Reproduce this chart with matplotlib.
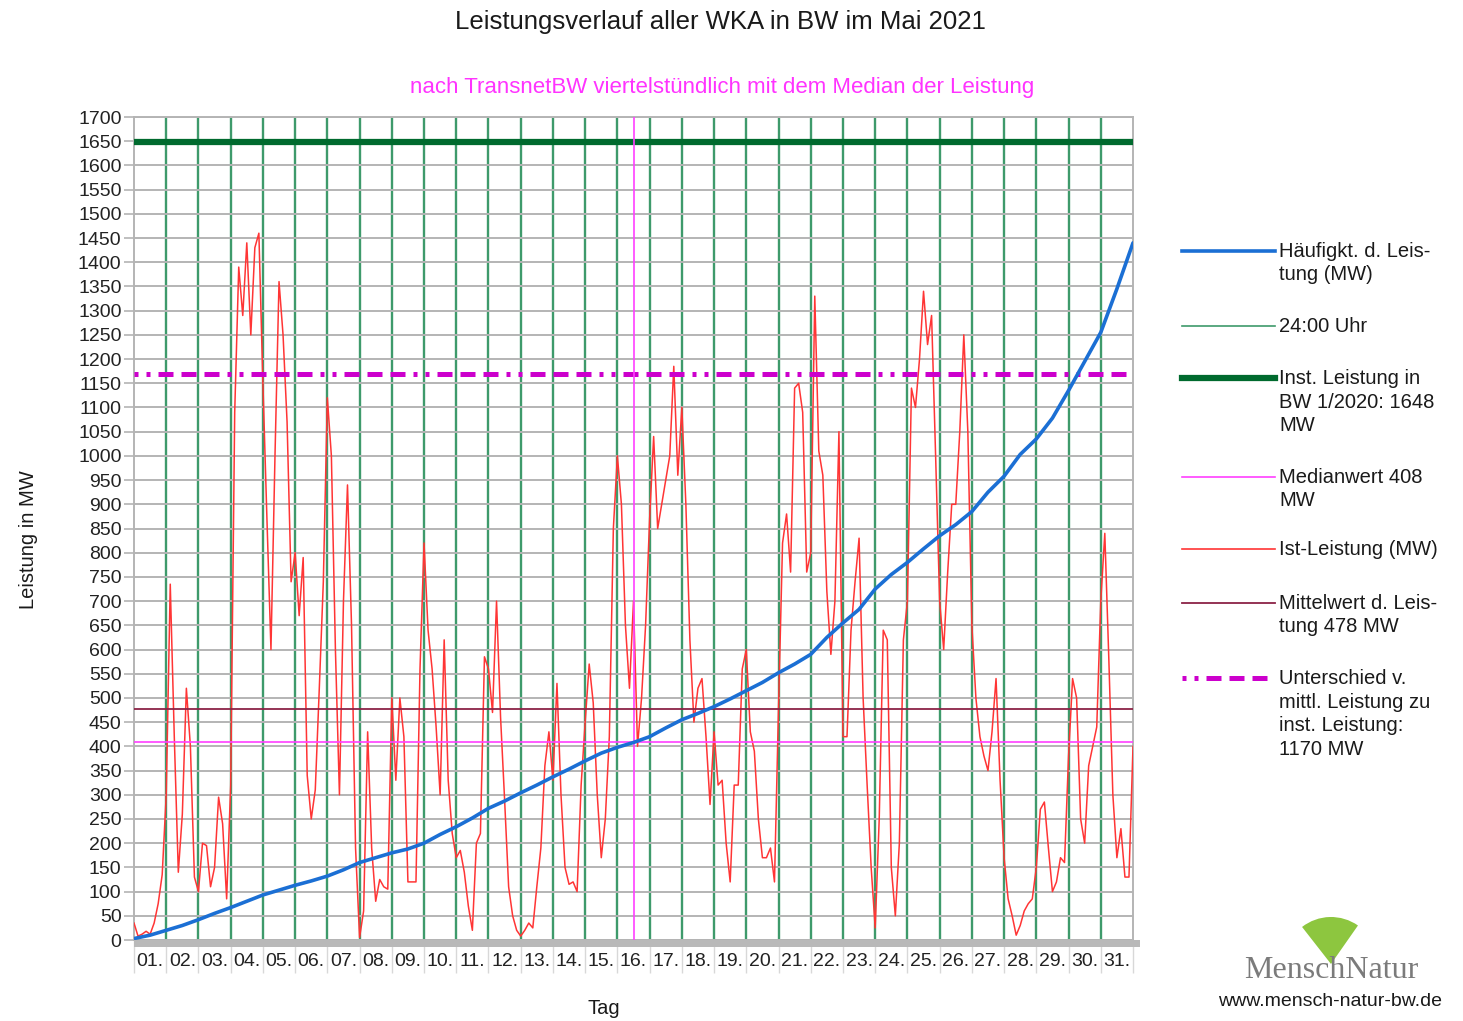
import matplotlib
matplotlib.use("Agg")
import matplotlib.pyplot as plt
import matplotlib.transforms as mtransforms
import numpy as np
from matplotlib.patches import Rectangle, Wedge
from matplotlib.lines import Line2D

plt.rcParams['font.family'] = ['Liberation Sans', 'DejaVu Sans']

# ---------------- data ----------------
day_labels = [f"{d:02d}." for d in range(1, 32)]
y_ticks = list(range(0, 1701, 50))

step_hours = 3  # Ist-Leistung sampled every 3 hours (MW)
ist_d01 = [35, 8, 12, 18, 12, 35, 75, 135]
ist_d02 = [300, 735, 420, 140, 260, 520, 400, 130]
ist_d03 = [100, 200, 195, 110, 150, 295, 240, 85]
ist_d04 = [320, 1090, 1390, 1290, 1440, 1250, 1430, 1460]
ist_d05 = [1150, 870, 600, 1000, 1360, 1250, 1070, 740]
ist_d06 = [800, 670, 790, 340, 250, 310, 520, 740]
ist_d07 = [1120, 1000, 600, 300, 700, 940, 650, 190]
ist_d08 = [5, 60, 430, 190, 80, 125, 110, 105]
ist_d09 = [500, 330, 500, 420, 120, 120, 120, 560]
ist_d10 = [820, 640, 560, 440, 300, 620, 330, 220]
ist_d11 = [170, 185, 140, 70, 20, 200, 220, 585]
ist_d12 = [560, 470, 700, 460, 290, 110, 50, 20]
ist_d13 = [8, 20, 35, 25, 110, 190, 360, 430]
ist_d14 = [330, 530, 300, 150, 115, 120, 100, 320]
ist_d15 = [450, 570, 490, 300, 170, 250, 420, 850]
ist_d16 = [1000, 900, 650, 520, 700, 400, 500, 650]
ist_d17 = [870, 1040, 850, 900, 950, 1000, 1185, 960]
ist_d18 = [1100, 900, 620, 450, 520, 540, 420, 280]
ist_d19 = [430, 320, 330, 200, 120, 320, 320, 560]
ist_d20 = [600, 430, 390, 250, 170, 170, 190, 120]
ist_d21 = [480, 820, 880, 760, 1140, 1150, 1090, 760]
ist_d22 = [800, 1330, 1010, 960, 720, 590, 700, 1050]
ist_d23 = [420, 420, 640, 740, 830, 500, 320, 150]
ist_d24 = [25, 250, 640, 620, 150, 50, 200, 620]
ist_d25 = [700, 1140, 1100, 1200, 1340, 1230, 1290, 1000]
ist_d26 = [700, 600, 760, 900, 900, 1050, 1250, 1050]
ist_d27 = [650, 500, 420, 380, 350, 430, 540, 330]
ist_d28 = [170, 85, 50, 10, 30, 60, 75, 85]
ist_d29 = [150, 270, 285, 190, 100, 120, 170, 160]
ist_d30 = [380, 540, 500, 250, 200, 360, 400, 440]
ist_d31 = [700, 840, 580, 300, 170, 230, 130, 130]
ist_end = [400]

# Häufigkeit der Leistung (sorted), every half day (MW)
haeufigkeit = [3, 10, 20, 30, 42, 55, 67, 80, 93, 103, 113, 122, 132, 145,
               160, 170, 180, 188, 200, 218, 234, 252, 272, 287, 304, 320,
               337, 353, 370, 386, 398, 408, 420, 438, 455, 468, 482, 498,
               515, 532, 552, 570, 590, 625, 655, 683, 725, 755, 780, 808,
               835, 858, 885, 925, 958, 1003, 1035, 1078, 1135, 1195, 1255,
               1345, 1440]
haeufigkeit_step_days = 0.5

inst_leistung = 1648
medianwert = 408
mittelwert = 478
unterschied = 1170
n_days = 31

ist_leistung = (ist_d01 + ist_d02 + ist_d03 + ist_d04 + ist_d05 + ist_d06 +
                ist_d07 + ist_d08 + ist_d09 + ist_d10 + ist_d11 + ist_d12 +
                ist_d13 + ist_d14 + ist_d15 + ist_d16 + ist_d17 + ist_d18 +
                ist_d19 + ist_d20 + ist_d21 + ist_d22 + ist_d23 + ist_d24 +
                ist_d25 + ist_d26 + ist_d27 + ist_d28 + ist_d29 + ist_d30 +
                ist_d31 + ist_end)

# ---------------- figure ----------------
W, H = 1463, 1021
fig = plt.figure(figsize=(W / 100, H / 100), dpi=100)
fig.patch.set_facecolor('white')

def fx(px):
    return px / W

def fy(py):
    return 1 - py / H

ax = fig.add_axes([fx(134), fy(940), fx(1133) - fx(134), fy(117) - fy(940)])
ax.set_xlim(0, n_days)
ax.set_ylim(0, 1700)

grid_gray = '#b4b4b4'
ax.set_yticks(y_ticks)
ax.set_yticklabels([str(v) for v in y_ticks], fontsize=14, color='#222222')
ax.yaxis.grid(True, color=grid_gray, lw=1.4, zorder=0)
ax.tick_params(axis='y', length=7, color=grid_gray, width=1.2, pad=2)

ax.set_xticks(np.arange(0, n_days + 1))
ax.set_xticklabels([])
ax.tick_params(axis='x', which='major', length=24, color='#d8d8d8', width=1.0)
ax.set_xticks(np.arange(n_days) + 0.5, minor=True)
ax.set_xticklabels(day_labels, minor=True, fontsize=14, color='#222222')
ax.tick_params(axis='x', which='minor', length=0, pad=9)

for s in ax.spines.values():
    s.set_color(grid_gray)
    s.set_linewidth(1.4)

# vertical 24:00 lines
green = '#3e9a6b'
for d in range(1, n_days):
    ax.axvline(d, color=green, lw=1.7, zorder=1)

# reference lines
ax.axhline(inst_leistung, color='#006a2e', lw=4.5, zorder=3)
dash_pat = (0, (0.8, 1.6, 0.8, 1.6, 3.0, 1.6, 3.0, 1.6, 3.0, 1.6))
ax.axhline(unterschied, color='#cc00cc', lw=3.6, linestyle=dash_pat, zorder=5)
ax.axhline(medianwert, color='#ff40ff', lw=1.2, zorder=5)
ax.axvline(n_days / 2, color='#ff40ff', lw=1.2, zorder=5)
ax.axhline(mittelwert, color='#8b2346', lw=1.3, zorder=5)

t_ist = np.arange(len(ist_leistung)) * step_hours / 24.0
ax.plot(t_ist, ist_leistung, color='#ff3535', lw=1.1, zorder=4)
t_h = np.arange(len(haeufigkeit)) * haeufigkeit_step_days
ax.plot(t_h, haeufigkeit, color='#1b6fd4', lw=2.6, zorder=6, solid_capstyle='round')

# gray band below x axis
fig.add_artist(Rectangle((fx(134), fy(947)), fx(1140) - fx(134), fy(940) - fy(947),
                         transform=fig.transFigure, color='#b9b9b9', lw=0))

# titles
fig.text(fx(720), fy(22), 'Leistungsverlauf aller WKA in BW im Mai 2021',
         ha='center', va='center', fontsize=18.5, color='#1a1a1a')
fig.text(fx(722), fy(87), 'nach TransnetBW viertelstündlich mit dem Median der Leistung',
         ha='center', va='center', fontsize=16, color='#ff33ff')
fig.text(fx(28), fy(540), 'Leistung in MW', rotation=90, ha='center', va='center',
         fontsize=14.5, color='#1a1a1a')
fig.text(fx(604), fy(1008), 'Tag', ha='center', va='center', fontsize=14.5,
         color='#1a1a1a')

# legend (manual)
legend_items = [
    (251, dict(color='#1b6fd4', lw=2.6), 'Häufigkt. d. Leis-\ntung (MW)'),
    (326, dict(color=green, lw=1.2), '24:00 Uhr'),
    (378, dict(color='#006a2e', lw=4.5), 'Inst. Leistung in\nBW 1/2020: 1648\nMW'),
    (477, dict(color='#ff40ff', lw=1.2), 'Medianwert 408\nMW'),
    (549, dict(color='#ff3535', lw=1.2), 'Ist-Leistung (MW)'),
    (603, dict(color='#8b2346', lw=1.3), 'Mittelwert d. Leis-\ntung 478 MW'),
    (678, dict(color='#cc00cc', lw=3.6, linestyle=(0, (0.8, 1.6, 0.8, 1.6, 3.0, 1.6, 3.0, 1.6, 3.0, 1.6))),
     'Unterschied v.\nmittl. Leistung zu\ninst. Leistung:\n1170 MW'),
]
for ypx, style, label in legend_items:
    fig.add_artist(Line2D([fx(1182), fx(1275)], [fy(ypx), fy(ypx)],
                          transform=fig.transFigure, **style))
    fig.text(fx(1279), fy(ypx - 9), label, ha='left', va='top', fontsize=14.5,
             color='#1a1a1a', linespacing=1.3)

# logo (ginkgo leaf as a fan, drawn in pixel space)
pix = mtransforms.IdentityTransform()
fig.add_artist(Wedge((1331, H - 964), 47, 55, 128, transform=pix,
                     color='#8dc63f', lw=0))
fig.text(fx(1331), fy(970), 'MenschNatur', ha='center', va='center',
         fontsize=23, color='#7b7b7b', family=['Liberation Serif', 'DejaVu Serif'])
fig.text(fx(1330), fy(1001), 'www.mensch-natur-bw.de', ha='center', va='center',
         fontsize=14, color='#1a1a1a')

fig.savefig('out.png', dpi=100, facecolor='white')
